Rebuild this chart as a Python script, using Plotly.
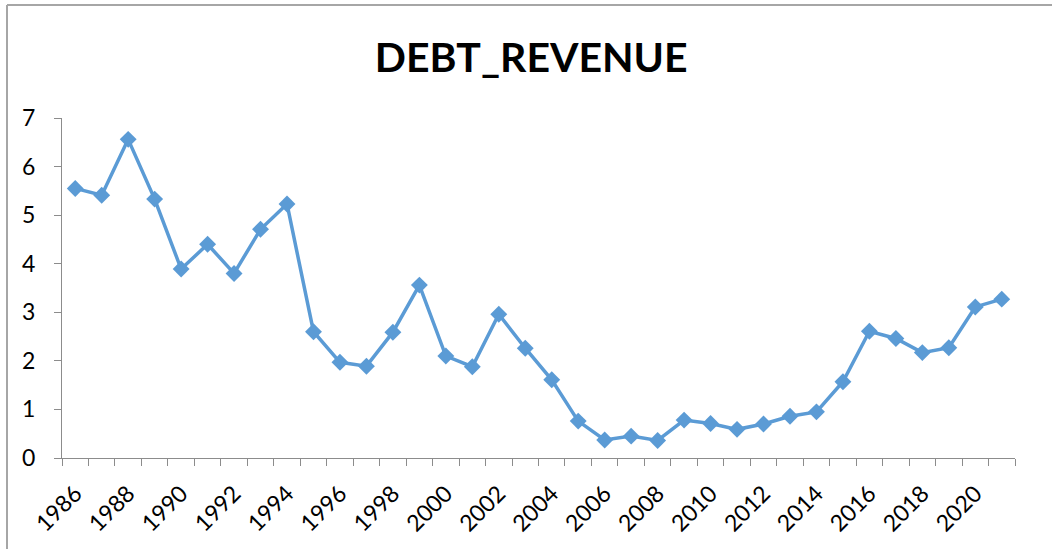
import plotly.graph_objects as go

years = list(range(1986, 2022))
debt_revenue = [5.55, 5.41, 6.56, 5.33, 3.89, 4.40, 3.80, 4.71, 5.23, 2.60,
                1.97, 1.89, 2.59, 3.56, 2.10, 1.88, 2.96, 2.26, 1.61, 0.76,
                0.37, 0.45, 0.36, 0.78, 0.71, 0.59, 0.70, 0.86, 0.95, 1.57,
                2.61, 2.46, 2.17, 2.27, 3.11, 3.27]
label_years = list(range(1986, 2021, 2))
y_ticks = [0, 1, 2, 3, 4, 5, 6, 7]

BLUE = "#5B9BD5"
AXIS = "#8C8C8C"
FONT = "Lato, 'Open Sans', sans-serif"

fig = go.Figure()
fig.add_trace(go.Scatter(
    x=years, y=debt_revenue, mode="lines+markers",
    line=dict(color=BLUE, width=3.5),
    marker=dict(symbol="diamond", size=13, color=BLUE),
    showlegend=False, hoverinfo="x+y",
))

fig.update_layout(
    width=1052, height=549,
    margin=dict(l=62, r=37, t=118, b=91),
    paper_bgcolor="white", plot_bgcolor="white",
    title=dict(text="<b>DEBT_REVENUE</b>", x=0.505, xanchor="center",
               y=0.895, yanchor="middle",
               font=dict(family=FONT, size=41, color="black")),
    font=dict(family=FONT, color="black"),
    xaxis=dict(
        range=[1985.5, 2021.5], showgrid=False, zeroline=False,
        showline=True, linecolor=AXIS, linewidth=1,
        tickmode="array", tickvals=label_years,
        ticktext=[str(v) for v in label_years],
        ticks="", tickangle=-45, tickfont=dict(size=23, color="black"),
        ticklabelstandoff=12,
        minor=dict(ticks="outside", tick0=1985.5, dtick=1, ticklen=7,
                   tickcolor=AXIS, tickwidth=1, showgrid=False),
    ),
    yaxis=dict(
        range=[0, 7], showgrid=False, zeroline=False,
        showline=True, linecolor=AXIS, linewidth=1,
        tickmode="array", tickvals=y_ticks,
        ticks="outside", ticklen=7, tickcolor=AXIS, tickwidth=1,
        tickfont=dict(size=23, color="black"), ticklabelstandoff=14,
    ),
    shapes=[
        dict(type="line", xref="paper", yref="paper",
             x0=(7 - 62) / 953, x1=(1060 - 62) / 953,
             y0=(458 - 5) / 340, y1=(458 - 5) / 340,
             line=dict(color="#A6A6A6", width=2)),
        dict(type="line", xref="paper", yref="paper",
             x0=(7 - 62) / 953, x1=(7 - 62) / 953,
             y0=(458 - 5) / 340, y1=(458 - 560) / 340,
             line=dict(color="#A6A6A6", width=2)),
    ],
)

fig.write_html("out.html")
